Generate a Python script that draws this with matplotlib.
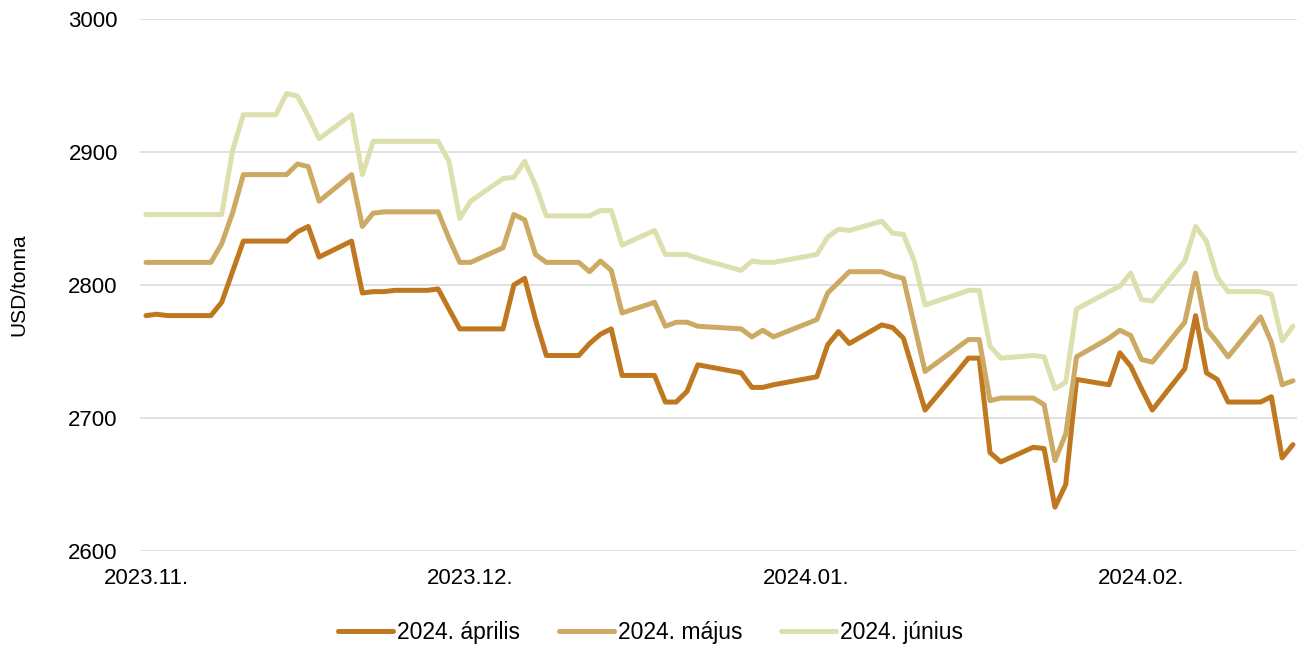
import matplotlib
matplotlib.use("Agg")
import matplotlib.pyplot as plt
import matplotlib.dates as mdates
import pandas as pd

plt.rcParams['font.family'] = ['Liberation Sans', 'DejaVu Sans']

# trading days (weekdays, without 25 Dec and 1 Jan)
holidays = ['2023-12-25', '2024-01-01']
dates = pd.bdate_range('2023-11-01', '2024-02-15')
dates = dates[~dates.isin(pd.to_datetime(holidays))]

april = [2777, 2778, 2777, 2777, 2777, 2787, 2810, 2833, 2833, 2833, 2840, 2844,
         2821, 2833, 2794, 2795, 2795, 2796, 2796, 2797, 2782, 2767,
         2767, 2767, 2800, 2805, 2774, 2747, 2747, 2756, 2763, 2767, 2732, 2732,
         2712, 2712, 2720, 2740, 2734, 2723, 2723, 2725,
         2731, 2755, 2765, 2756, 2770, 2768, 2760, 2733, 2706, 2735, 2745, 2745,
         2674, 2667, 2678, 2677, 2633, 2650, 2729, 2725, 2749, 2739,
         2722, 2706, 2737, 2777, 2734, 2729, 2712, 2712, 2716, 2670, 2680]
majus = [2817, 2817, 2817, 2817, 2817, 2831, 2854, 2883, 2883, 2883, 2891, 2889,
         2863, 2883, 2844, 2854, 2855, 2855, 2855, 2855, 2835, 2817,
         2817, 2828, 2853, 2849, 2823, 2817, 2817, 2810, 2818, 2811, 2779, 2787,
         2769, 2772, 2772, 2769, 2767, 2761, 2766, 2761,
         2774, 2794, 2802, 2810, 2810, 2807, 2805, 2770, 2735, 2753, 2759, 2759,
         2713, 2715, 2715, 2710, 2668, 2688, 2746, 2760, 2766, 2762,
         2744, 2742, 2772, 2809, 2767, 2757, 2746, 2776, 2757, 2725, 2728]
junius = [2853, 2853, 2853, 2853, 2853, 2853, 2901, 2928, 2928, 2944, 2942, 2927,
          2910, 2928, 2883, 2908, 2908, 2908, 2908, 2908, 2893, 2850,
          2863, 2880, 2881, 2893, 2875, 2852, 2852, 2852, 2856, 2856, 2830, 2841,
          2823, 2823, 2823, 2820, 2811, 2818, 2817, 2817,
          2823, 2836, 2842, 2841, 2848, 2839, 2838, 2818, 2785, 2793, 2796, 2796,
          2754, 2745, 2747, 2746, 2722, 2727, 2782, 2795, 2799, 2809,
          2789, 2788, 2818, 2844, 2833, 2806, 2795, 2795, 2793, 2758, 2769]

series_labels = ['2024. április', '2024. május', '2024. június']
colors = ['#BF7820', '#CDAA64', '#DDE0AE']
y_ticks = [2600, 2700, 2800, 2900, 3000]
month_ticks = ['2023-11-01', '2023-12-01', '2024-01-01', '2024-02-01']

fig = plt.figure(figsize=(13.01, 6.47), dpi=100)
ax = fig.add_axes([140 / 1301, 1 - 551 / 647, (1297 - 140) / 1301, (551 - 19) / 647])

for vals, lab, col in zip([april, majus, junius], series_labels, colors):
    ax.plot(dates, vals, color=col, lw=3.6, label=lab, solid_joinstyle='round',
            solid_capstyle='round')

ax.set_ylim(2600, 3000)
ax.set_yticks(y_ticks)
start = pd.Timestamp('2023-11-01')
ax.set_xlim(start - pd.Timedelta(days=0.55), start + pd.Timedelta(days=106.37))
ax.set_xticks(pd.to_datetime(month_ticks))
ax.xaxis.set_major_formatter(mdates.DateFormatter('%Y.%m.'))

ax.grid(axis='y', color='#D9D9D9', lw=1.1)
ax.set_axisbelow(True)
for s in ax.spines.values():
    s.set_visible(False)
ax.tick_params(axis='both', length=0, labelsize=16, colors='black')
ax.tick_params(axis='y', pad=16)
ax.tick_params(axis='x', pad=12)
ax.set_ylabel('USD/tonna', fontsize=15, labelpad=29)

fig.legend(loc='center', bbox_to_anchor=(0.5, 0.022), ncol=3, frameon=False,
           fontsize=16.5, handlelength=2.4, handletextpad=0.18, columnspacing=1.7)

fig.savefig('out.png', dpi=100)
